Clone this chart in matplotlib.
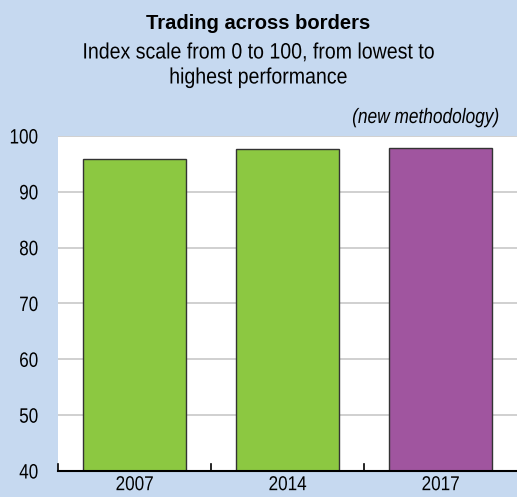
import matplotlib.pyplot as plt
import matplotlib.patheffects as pe
from matplotlib.transforms import Affine2D

# Data
years = ["2007", "2014", "2017"]
scores = [95.9, 97.7, 97.8]
bar_colors = ["#8CC841", "#8CC841", "#A0559F"]
yticks = [40, 50, 60, 70, 80, 90, 100]

bg = "#C6D9F0"
W, H = 517, 497
plt.rcParams['font.family'] = ['Liberation Sans', 'DejaVu Sans']


# the original uses a narrow face; squeeze the glyphs horizontally
class Squeeze(pe.AbstractPathEffect):
    def __init__(self, sx, anchor="center"):
        super().__init__()
        self.sx = sx
        self.anchor = anchor

    def draw_path(self, renderer, gc, tpath, affine, rgbFace=None):
        ext = tpath.get_extents(affine)
        if self.anchor == "right":
            x0 = ext.x1
        elif self.anchor == "left":
            x0 = ext.x0
        else:
            x0 = (ext.x0 + ext.x1) / 2
        sq = Affine2D().translate(-x0, 0).scale(self.sx, 1).translate(x0, 0)
        renderer.draw_path(gc, tpath, affine + sq, rgbFace)


fig = plt.figure(figsize=(W / 100, H / 100), dpi=100, facecolor=bg)
ax = fig.add_axes([58 / W, 1 - 471 / H, 459 / W, 335 / H])
ax.set_facecolor("white")

x = list(range(len(years)))
ax.bar(x, scores, width=0.667, color=bar_colors, edgecolor="#333333", linewidth=1.0, zorder=3)

ax.set_ylim(40, 100)
ax.set_xlim(-0.5, len(years) - 0.5)
ax.set_yticks(yticks)
ax.set_yticklabels([str(t) for t in yticks], fontsize=15)
ax.yaxis.grid(True, color="#C8C8C8", linewidth=1.2, zorder=0)
ax.tick_params(axis="y", length=0, pad=14)
for lbl in ax.get_yticklabels():
    lbl.set_path_effects([Squeeze(0.82, "right")])

# category labels and boundary ticks
ax.set_xticks(x)
ax.set_xticklabels(years, fontsize=14.5)
ax.tick_params(axis="x", length=0, pad=3)
for lbl in ax.get_xticklabels():
    lbl.set_path_effects([Squeeze(0.85)])
for b in [-0.5, 0.5, 1.5]:
    ax.plot([b, b], [40, 41.2], color="black", linewidth=1.2, zorder=4, clip_on=False)

for s in ["top", "right", "left"]:
    ax.spines[s].set_visible(False)
ax.spines["bottom"].set_color("black")
ax.spines["bottom"].set_linewidth(1.5)
ax.spines["bottom"].set_zorder(5)

fig.text(0.5, 1 - 29 / H, "Trading across borders", ha="center", va="baseline",
         fontsize=14.5, fontweight="bold")
t1 = fig.text(0.5, 1 - 58.5 / H, "Index scale from 0 to 100, from lowest to",
              ha="center", va="baseline", fontsize=16)
t2 = fig.text(0.5, 1 - 83.5 / H, "highest performance",
              ha="center", va="baseline", fontsize=16)
for t in (t1, t2):
    t.set_path_effects([Squeeze(0.88)])
note = fig.text(500 / W, 1 - 123 / H, "(new methodology)", ha="right", va="baseline",
                fontsize=15, style="italic")
note.set_path_effects([Squeeze(0.83, "right")])

fig.savefig("out.png", dpi=100, facecolor=bg)
